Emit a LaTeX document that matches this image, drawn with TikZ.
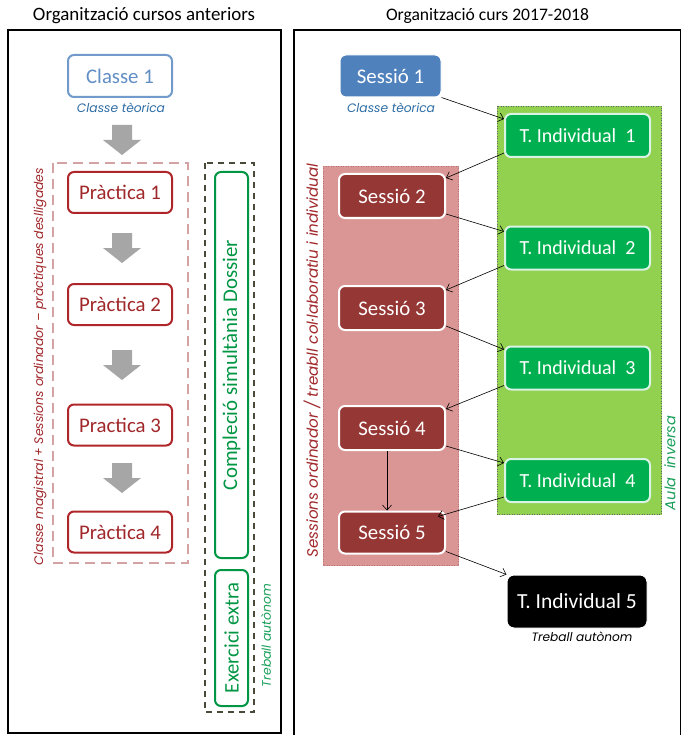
\documentclass[tikz,border=0pt]{standalone}
\usepackage{fontspec}
\setmainfont{Carlito}
\newfontfamily\captfont{Poppins}
\usetikzlibrary{arrows.meta}
\definecolor{bluebox}{HTML}{4F81BD}
\definecolor{bluecap}{HTML}{2E6DA4}
\definecolor{redline}{HTML}{B0252A}
\definecolor{redtext}{HTML}{A0282B}
\definecolor{rosedash}{HTML}{D4A2A2}
\definecolor{darkdash}{HTML}{4A4A3A}
\definecolor{gbox}{HTML}{00B050}
\definecolor{gtext}{HTML}{1AA05A}
\definecolor{lgreen}{HTML}{92D050}
\definecolor{rosebg}{HTML}{D99694}
\definecolor{sessred}{HTML}{953735}
\definecolor{garrow}{HTML}{A6A6A6}
\tikzset{
  frame/.style={draw=black, line width=2.4pt},
  title/.style={font=\fontsize{17.5}{20}\selectfont, inner sep=0pt},
  oldbox/.style={draw=redline, line width=2pt, rounded corners=6pt, fill=white, minimum width=104pt, minimum height=41pt, text=redtext, font=\fontsize{20.8}{23}\selectfont},
  bluebox/.style={draw=bluebox!80, line width=2pt, rounded corners=6pt, fill=white, minimum width=104pt, minimum height=42pt, text=bluebox!90, font=\fontsize{20.8}{23}\selectfont},
  capt/.style={font=\captfont\fontsize{11}{13}\selectfont\itshape, inner sep=0pt},
  greenbox/.style={draw=gbox!85!black, line width=2pt, rounded corners=6pt, fill=white, minimum height=33pt, text=gbox!85!black, font=\fontsize{21}{23}\selectfont, rotate=90, inner sep=0pt},
  sessbox/.style={draw=white, line width=2pt, rounded corners=6pt, fill=sessred, minimum width=106pt, minimum height=44pt, text=white, font=\fontsize{20.8}{23}\selectfont},
  tibox/.style={draw=white!85!gbox, line width=2pt, rounded corners=6pt, fill=gbox, minimum width=145pt, minimum height=43pt, text=white, font=\fontsize{20}{22}\selectfont},
  conn/.style={-{Straight Barb[length=5pt,width=9pt]}, line width=0.6pt, black},
  garr/.style={fill=garrow, draw=none},
}
\newcommand{\grayarrow}[2]{%
  \fill[garr] (#1-10,#2) -- (#1+10,#2) -- (#1+10,#2+15) -- (#1+19,#2+15) -- (#1,#2+30) -- (#1-19,#2+15) -- (#1-10,#2+15) -- cycle;}
\newcommand{\fitw}[2]{\resizebox{#1pt}{!}{#2}}
\begin{document}
\begin{tikzpicture}[x=1pt,y=-1pt]
\useasboundingbox (0,0) rectangle (680,735);
\fill[white] (0,0) rectangle (680,735);
% titles
\node[title] (t-left) at (144,16) {\fitw{222}{Organització cursos anteriors}};
\node[title] (t-right) at (487.5,16) {\fitw{203}{Organització curs 2017-2018}};
% frames
\draw[frame] (8,30) rectangle (281,733);
\draw[frame] (294,30) rectangle (681,737);

% ---------- left panel ----------
\draw[rosedash, line width=2pt, dash pattern=on 10pt off 6pt] (53,163) rectangle (188,563);
\draw[darkdash, line width=1.6pt, dash pattern=on 6pt off 5pt] (205,163) rectangle (254,712);

\node[bluebox] (c1) at (120,76) {Classe 1};
\node[capt, text=bluecap] (c1cap) at (121,108) {\fitw{88}{Classe tèorica}};

\node[oldbox] (p1) at (120,192.5) {Pràctica 1};
\node[oldbox] (p2) at (120,304.5) {Pràctica 2};
\node[oldbox] (p3) at (120,425) {Practica 3};
\node[oldbox] (p4) at (120,532) {Pràctica 4};

\grayarrow{122}{125}
\grayarrow{122}{233}
\grayarrow{122}{350}
\grayarrow{122}{463}

\node[capt, rotate=90, text=redtext] (lbl-left) at (40,366.5) {\fitw{397}{Classe magistral + Sessions ordinador – pràctiques deslligades}};

\node[greenbox, minimum width=386pt] (dossier) at (231.5,365) {\fitw{250}{Compleció simultània Dossier}};
\node[greenbox, minimum width=136pt] (extra) at (231.5,638) {\fitw{110}{Exercici extra}};
\node[capt, rotate=90, text=gtext] (ta-left) at (266,635.5) {\fitw{103}{Treball autònom}};

% ---------- right panel ----------
\draw[lgreen, fill=lgreen] (497,106) rectangle (661,514);
\draw[black!60, line width=0.5pt, dotted] (497,106) rectangle (661,514);
\draw[rosebg, fill=rosebg] (323,166) rectangle (458,565);
\draw[sessred!70, line width=0.5pt, dotted] (323,166) rectangle (458,565);

\node[draw=white, line width=1pt, rounded corners=6pt, fill=bluebox, minimum width=101pt, minimum height=42pt, text=white, font=\fontsize{20.8}{23}\selectfont] (s1) at (390.5,76) {Sessió 1};
\node[capt, text=bluecap] (s1cap) at (391,108) {\fitw{88}{Classe tèorica}};

\node[tibox] (ti1) at (577.5,135.5) {T. Individual~~1};
\node[tibox] (ti2) at (577.5,248) {T. Individual~~2};
\node[tibox] (ti3) at (577.5,368) {T. Individual~~3};
\node[tibox] (ti4) at (577.5,480.5) {T. Individual~~4};

\node[sessbox] (s2) at (392,196) {Sessió 2};
\node[sessbox] (s3) at (392,308) {Sessió 3};
\node[sessbox] (s4) at (392,428) {Sessió 4};
\node[sessbox, minimum height=42pt] (s5) at (392,532.5) {Sessió 5};

\node[draw=white, line width=1pt, rounded corners=7pt, fill=black, minimum width=140pt, minimum height=53pt, text=white, font=\fontsize{21.5}{23}\selectfont] (ti5) at (577,601.5) {T. Individual 5};
\node[capt, text=black] (ti5cap) at (582,637) {\fitw{101}{Treball autònom}};

\node[capt, rotate=90, text=gtext] (aula) at (670,463) {\fitw{94}{Aula~~inversa}};
\node[capt, rotate=90, text=redtext] (lbl-right) at (312,360.5) {\fitw{394}{Sessions ordinador / treabll col·laboratiu i individual}};

% connectors
\draw[conn] (s1.south east) -- ([yshift=-6pt]ti1.north west);
\draw[conn] ([yshift=5pt]ti1.south west) -- ([yshift=-5pt]s2.north east);
\draw[conn] ([yshift=5pt]s2.south east) -- ([yshift=-6pt]ti2.north west);
\draw[conn] ([yshift=5pt]ti2.south west) -- ([yshift=-5pt]s3.north east);
\draw[conn] ([yshift=5pt]s3.south east) -- ([yshift=-4pt]ti3.north west);
\draw[conn] ([yshift=5pt]ti3.south west) -- ([yshift=-4pt]s4.north east);
\draw[conn] ([yshift=5pt]s4.south east) -- ([yshift=-5pt]ti4.north west);
\draw[conn] ([yshift=6pt]ti4.south west) -- ([xshift=-8pt,yshift=-6pt]s5.north east);
\draw[conn] ([yshift=3pt]s5.south east) -- (ti5.north west);
\draw[conn] ([xshift=-5pt]s4.south) -- ([xshift=-5pt]s5.north);
\end{tikzpicture}
\end{document}
